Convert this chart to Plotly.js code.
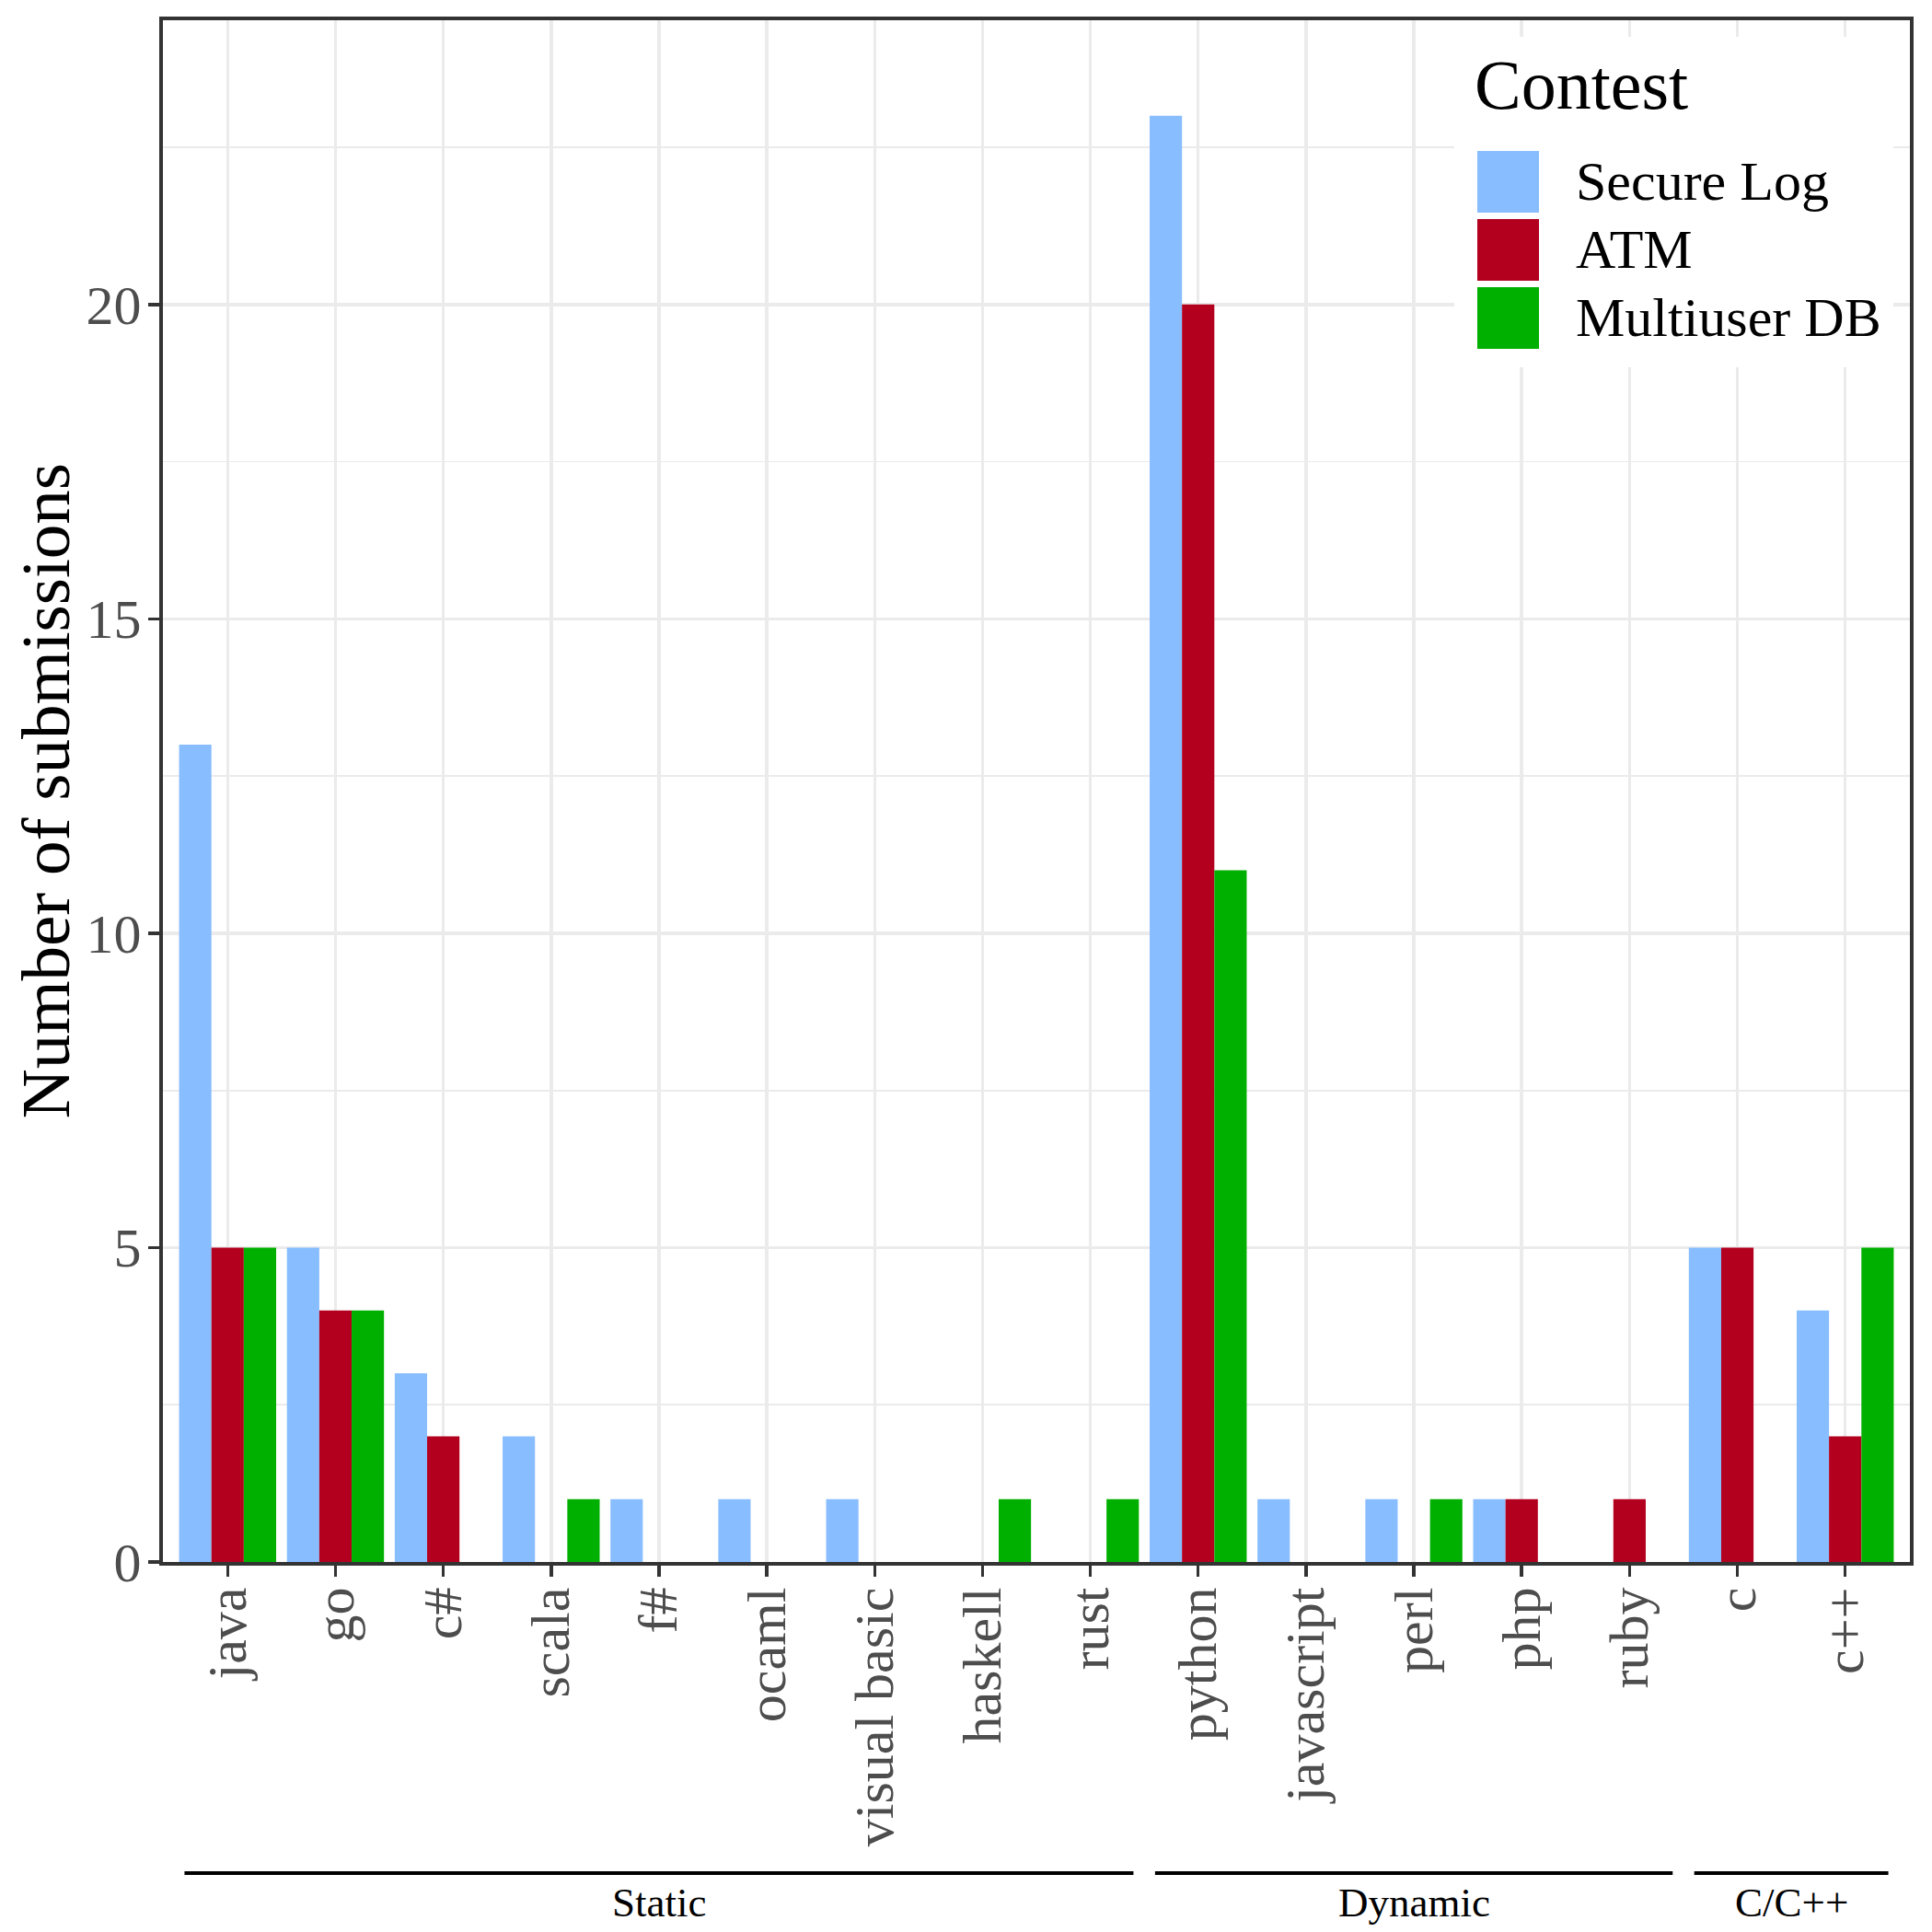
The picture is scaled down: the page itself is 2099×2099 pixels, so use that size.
<!DOCTYPE html>
<html>
<head>
<meta charset="utf-8">
<script src="https://cdn.plot.ly/plotly-3.0.1.min.js"></script>
<style>html,body{margin:0;padding:0;background:#fff;}</style>
</head>
<body>
<div id="chart" style="width:2099px;height:2099px;"></div>
<script>
const languages = ["java","go","c#","scala","f#","ocaml","visual basic","haskell","rust","python","javascript","perl","php","ruby","c","c++"];
const seriesNames = ["Secure Log","ATM","Multiuser DB"];
const secureLog   = [13,5,3,2,1,1,1,0,0,23,1,1,1,0,5,4];
const atm         = [5,4,2,0,0,0,0,0,0,20,0,0,1,1,5,2];
const multiuserDB = [5,4,0,1,0,0,0,1,1,11,0,1,0,0,0,5];
const seriesColors = ["#88BDFF","#B2001E","#00B000"];
const groupNames = ["Static","Dynamic","C/C++"];
const groupFirst = ["java","python","c"];
const groupLast  = ["rust","ruby","c++"];
const yTitle = "Number of submissions";

const W = 2099, H = 2099;
const L = 177, R = 2075, T = 22, B = 1697;
const px2x = p => (p - L) / (R - L);
const px2y = p => (B - p) / (B - T);
const FONT = "Liberation Serif, Times New Roman, serif";

const values = [secureLog, atm, multiuserDB];
const traces = values.map((v, i) => ({
  type: "bar", x: languages, y: v, name: seriesNames[i],
  marker: {color: seriesColors[i], line: {width: 0}},
  showlegend: false, hoverinfo: "x+y+name"
}));

const shapes = [];
const annotations = [];

// y axis title
annotations.push({xref: "paper", yref: "paper", x: px2x(49), y: 0.5,
  text: yTitle, showarrow: false, textangle: -90, xanchor: "center", yanchor: "middle",
  font: {family: FONT, size: 75, color: "#000"}});

// group brackets below axis
groupNames.forEach((g, i) => {
  const a = languages.indexOf(groupFirst[i]) - 0.4;
  const b = languages.indexOf(groupLast[i]) + 0.4;
  shapes.push({type: "line", xref: "x", yref: "paper", x0: a, x1: b,
    y0: px2y(2035), y1: px2y(2035), line: {color: "#000", width: 4}});
  annotations.push({xref: "x", yref: "paper", x: (a + b) / 2, y: px2y(2067),
    text: g, showarrow: false, xanchor: "center", yanchor: "middle",
    font: {family: FONT, size: 45, color: "#000"}});
});

// legend (drawn manually to match large square keys)
shapes.push({type: "rect", xref: "paper", yref: "paper", layer: "above",
  x0: px2x(1580), x1: px2x(2057), y0: px2y(399), y1: px2y(40),
  fillcolor: "#fff", line: {width: 0}});
annotations.push({xref: "paper", yref: "paper", x: px2x(1600), y: px2y(92),
  text: "Contest", showarrow: false, xanchor: "left", yanchor: "middle",
  font: {family: FONT, size: 76, color: "#000"}});
const keyTops = [164, 238, 312];
seriesNames.forEach((n, i) => {
  shapes.push({type: "rect", xref: "paper", yref: "paper", layer: "above",
    x0: px2x(1605), x1: px2x(1672), y0: px2y(keyTops[i] + 67), y1: px2y(keyTops[i]),
    fillcolor: seriesColors[i], line: {width: 0}});
  annotations.push({xref: "paper", yref: "paper", x: px2x(1710), y: px2y(keyTops[i] + 33),
    text: n, showarrow: false, xanchor: "left", yanchor: "middle",
    font: {family: FONT, size: 60, color: "#000"}});
});

const layout = {
  width: W, height: H, autosize: false,
  margin: {l: L, r: W - R, t: T, b: H - B, pad: 0},
  paper_bgcolor: "#fff", plot_bgcolor: "#fff",
  barmode: "group", bargap: 0.1, bargroupgap: 0,
  font: {family: FONT, color: "#4D4D4D"},
  xaxis: {
    type: "category", categoryorder: "array", categoryarray: languages,
    range: [-0.6, languages.length - 0.4],
    showgrid: true, gridcolor: "#EBEBEB", gridwidth: 3.5,
    showline: true, linecolor: "#333333", linewidth: 3.6, mirror: true,
    ticks: "outside", ticklen: 12, tickwidth: 3.5, tickcolor: "#333333",
    ticklabelstandoff: -12,
    tickangle: -90, tickfont: {family: FONT, size: 60, color: "#4D4D4D"},
    zeroline: false, fixedrange: true
  },
  yaxis: {
    range: [0, 24.52],
    tickvals: [0, 5, 10, 15, 20], ticktext: ["0","5","10","15","20"],
    showgrid: true, gridcolor: "#EBEBEB", gridwidth: 3.5,
    minor: {tickvals: [2.5, 7.5, 12.5, 17.5, 22.5], showgrid: true, gridcolor: "#EBEBEB", gridwidth: 1.8, ticks: ""},
    showline: true, linecolor: "#333333", linewidth: 3.6, mirror: true,
    ticks: "outside", ticklen: 12, tickwidth: 3.5, tickcolor: "#333333",
    ticklabelstandoff: -4,
    tickfont: {family: FONT, size: 60, color: "#4D4D4D"},
    zeroline: false, fixedrange: true
  },
  shapes: shapes,
  annotations: annotations
};

Plotly.newPlot("chart", traces, layout, {staticPlot: true, displayModeBar: false});
</script>
</body>
</html>
